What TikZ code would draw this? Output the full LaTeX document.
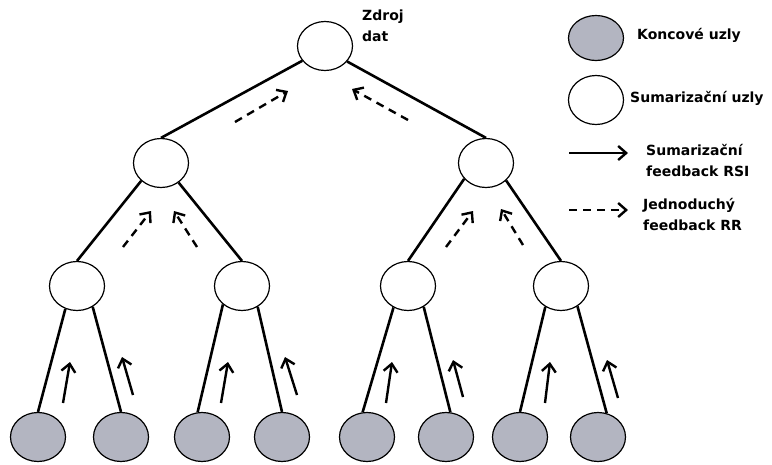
\documentclass[tikz,border=0pt]{standalone}
\usepackage{fontspec}
\setmainfont{DejaVu Sans}
\usetikzlibrary{shapes.geometric,arrows.meta}
\definecolor{leafgray}{RGB}{179,181,193}
\begin{document}
\begin{tikzpicture}[x=1pt,y=-1pt,
	sumnode/.style={ellipse,draw=black,line width=1.2pt,fill=white,minimum width=55pt,minimum height=49pt,inner sep=0pt},
	leafnode/.style={sumnode,fill=leafgray},
	edge/.style={line width=2.6pt},
	fbsolid/.style={line width=2.4pt,-{Straight Barb[length=8pt,width=14pt]}},
	fbdash/.style={fbsolid,dash pattern=on 8pt off 6pt},
	lbl/.style={inner sep=0pt,align=left,font=\fontsize{14}{21}\selectfont\bfseries}]
	\useasboundingbox (0,0) rectangle (772,464);
	% nodes of the tree
	\node [sumnode] (src) at (325,46) {};
	\node [sumnode] (s1) at (161,163) {};
	\node [sumnode] (s2) at (486,163) {};
	\node [sumnode] (s11) at (77,286) {};
	\node [sumnode] (s12) at (242,286) {};
	\node [sumnode] (s21) at (408,286) {};
	\node [sumnode] (s22) at (561,286) {};
	\node [leafnode] (l1) at (38,437) {};
	\node [leafnode] (l2) at (121,437) {};
	\node [leafnode] (l3) at (202,437) {};
	\node [leafnode] (l4) at (282,437) {};
	\node [leafnode] (l5) at (367,437) {};
	\node [leafnode] (l6) at (446,437) {};
	\node [leafnode] (l7) at (520,437) {};
	\node [leafnode] (l8) at (598,437) {};
	\node [lbl,anchor=north west] (srclbl) at (362,10) {Zdroj\\dat};
	% edges
	\draw [edge] (src.213) -- (s1.north);
	\draw [edge] (src.325) -- (s2.north);
	\draw [edge] (s1.222) -- (s11.north);
	\draw [edge] (s1.312) -- (s12.north);
	\draw [edge] (s2.216) -- (s21.north);
	\draw [edge] (s2.319) -- (s22.north);
	\draw [edge] (s11.243) -- (l1.north);
	\draw [edge] (s11.307) -- (l2.north);
	\draw [edge] (s12.224) -- (l3.100);
	\draw [edge] (s12.307) -- (l4.north);
	\draw [edge] (s21.236) -- (l5.100);
	\draw [edge] (s21.307) -- (l6.80);
	\draw [edge] (s22.233) -- (l7.north);
	\draw [edge] (s22.309) -- (l8.70);
	% feedback from the leaves
	\draw [fbsolid] (63,403) -- (70,362);
	\draw [fbsolid] (133,395) -- (122,357);
	\draw [fbsolid] (221,403) -- (228,362);
	\draw [fbsolid] (297,395) -- (285,357);
	\draw [fbsolid] (386,403) -- (392,362);
	\draw [fbsolid] (463,397) -- (453,360);
	\draw [fbsolid] (545,403) -- (550,362);
	\draw [fbsolid] (618,398) -- (607,360);
	% feedback between summarizing nodes
	\draw [fbdash] (123,247) -- (151,211);
	\draw [fbdash] (197,247) -- (174,211);
	\draw [fbdash] (446,247) -- (473,211);
	\draw [fbdash] (523,245) -- (501,209);
	\draw [fbdash] (235,122) -- (288,91);
	\draw [fbdash] (408,120) -- (352,89);
	% legend
	\node [leafnode,minimum height=45pt] (keyleaf) at (596,38) {};
	\node [lbl,anchor=west] (keyleaflbl) at (637,35) {Koncové uzly};
	\node [sumnode] (keysum) at (596,100) {};
	\node [lbl,anchor=west] (keysumlbl) at (630,98) {Sumarizační uzly};
	\coordinate (keyrsi) at (569,153);
	\draw [fbsolid] (keyrsi) -- ++(59,0);
	\node [lbl,anchor=west] (keyrsilbl) at (646,160) {Sumarizační\\feedback RSI};
	\coordinate (keyrr) at (569,210);
	\draw [fbdash] (keyrr) -- ++(59,0);
	\node [lbl,anchor=west] (keyrrlbl) at (643,214) {Jednoduchý\\feedback RR};
\end{tikzpicture}
\end{document}
